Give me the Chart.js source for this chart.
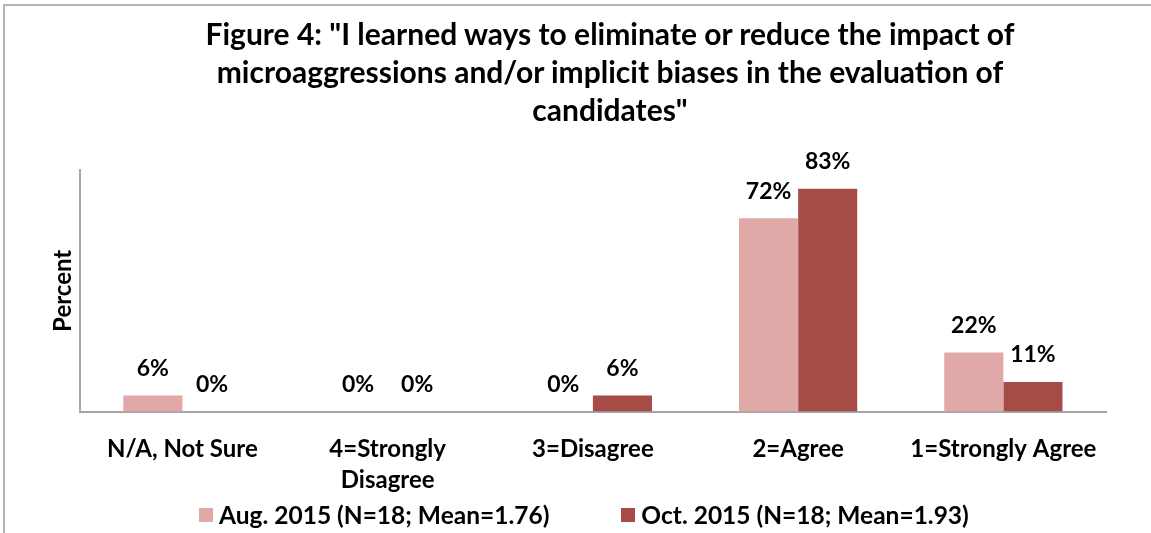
<!DOCTYPE html>
<html>
<head>
<meta charset="utf-8">
<script src="https://cdn.jsdelivr.net/npm/chart.js@4.4.1/dist/chart.umd.min.js"></script>
<style>
  body { margin: 0; background: #fff; }
  #wrap { position: relative; width: 1151px; height: 533px; }
  #frame {
    position: absolute; left: 3px; top: 4px; right: 0; bottom: 0;
    border-left: 2px solid #b4b4b4; border-top: 2px solid #b4b4b4;
    pointer-events: none;
  }
  #title {
    position: absolute; left: 110px; width: 1000px; top: 14px;
    font: bold 30px Lato, sans-serif; line-height: 38px;
    text-align: center; color: #000;
  }
  #legend {
    position: absolute; left: 199px; top: 500px;
    display: flex; align-items: center;
    font: bold 24.5px Lato, sans-serif; color: #000;
  }
  #legend .item { display: flex; align-items: center; margin-right: 72px; }
  #legend .box { width: 14px; height: 14px; margin-right: 6px; }
</style>
</head>
<body>
<div id="wrap">
  <canvas id="chart" width="1151" height="533"></canvas>
  <div id="title">Figure 4: "I learned ways to eliminate or reduce the impact of<br>microaggressions and/or implicit biases in the evaluation of<br>candidates"</div>
  <div id="legend"></div>
  <div id="frame"></div>
</div>
<script>
const categories = ['N/A, Not Sure', ['4=Strongly', 'Disagree'], '3=Disagree', '2=Agree', '1=Strongly Agree'];
const augValues = [6, 0, 0, 72, 22];
const octValues = [0, 0, 6, 83, 11];
const seriesNames = ['Aug. 2015 (N=18; Mean=1.76)', 'Oct. 2015 (N=18; Mean=1.93)'];
const seriesColors = ['#e0a8a6', '#a64b46'];

const labelFont = 'bold 23px Lato, sans-serif';

// percent labels above each bar
const valueLabels = {
  id: 'valueLabels',
  afterDatasetsDraw(chart) {
    const ctx = chart.ctx;
    ctx.save();
    ctx.font = labelFont;
    ctx.fillStyle = '#000';
    ctx.textAlign = 'center';
    ctx.textBaseline = 'middle';
    chart.data.datasets.forEach((ds, i) => {
      chart.getDatasetMeta(i).data.forEach((bar, j) => {
        ctx.fillText(ds.data[j] + '%', bar.x, bar.y - 27);
      });
    });
    ctx.restore();
  }
};

const chart = new Chart(document.getElementById('chart'), {
  type: 'bar',
  data: {
    labels: categories,
    datasets: [
      { label: seriesNames[0], data: augValues, backgroundColor: seriesColors[0] },
      { label: seriesNames[1], data: octValues, backgroundColor: seriesColors[1] }
    ]
  },
  options: {
    responsive: false,
    animation: false,
    layout: { padding: { top: 170, left: 55, right: 45, bottom: 23 } },
    datasets: { bar: { categoryPercentage: 0.576, barPercentage: 1 } },
    plugins: {
      legend: { display: false },
      tooltip: { enabled: false }
    },
    scales: {
      x: {
        grid: { display: false },
        border: { color: '#a6a6a6', width: 2 },
        ticks: {
          color: '#000', padding: 14, maxRotation: 0,
          font: { family: 'Lato', weight: 'bold', size: 24, lineHeight: 1.3 }
        }
      },
      y: {
        min: 0, max: 90,
        grid: { display: false },
        border: { color: '#a6a6a6', width: 2 },
        ticks: { display: false },
        title: {
          display: true, text: 'Percent', color: '#000',
          font: { family: 'Lato', weight: 'bold', size: 24, lineHeight: 0.7 },
          padding: { top: 0, bottom: 0 }
        }
      }
    }
  },
  plugins: [valueLabels]
});

// legend row under the axis
const legendEl = document.getElementById('legend');
chart.data.datasets.forEach(ds => {
  const item = document.createElement('div');
  item.className = 'item';
  const box = document.createElement('span');
  box.className = 'box';
  box.style.background = ds.backgroundColor;
  item.appendChild(box);
  item.appendChild(document.createTextNode(ds.label));
  legendEl.appendChild(item);
});
</script>
</body>
</html>
